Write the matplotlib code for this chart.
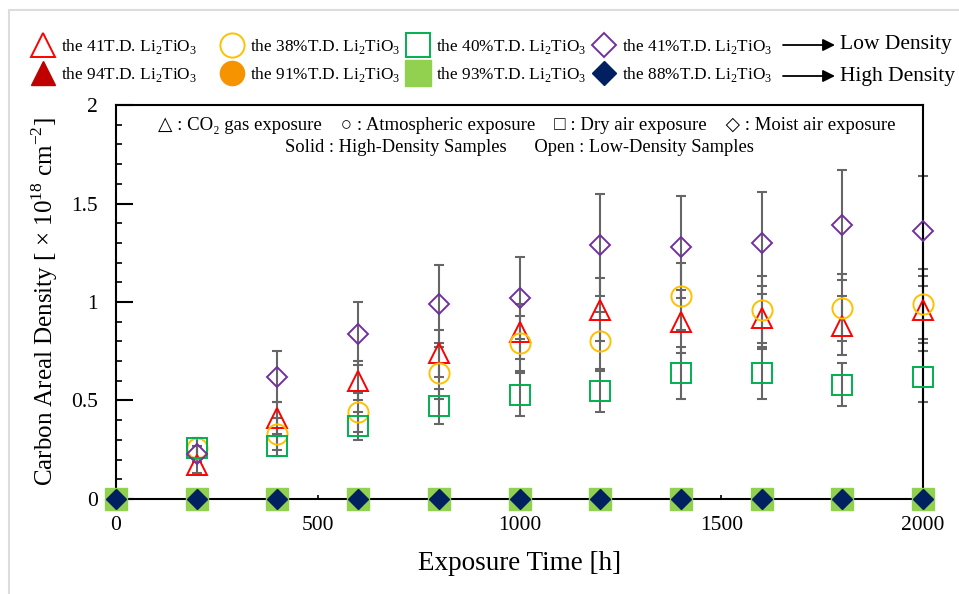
import numpy as np
import matplotlib
matplotlib.use("Agg")
from matplotlib import pyplot as plt
from matplotlib.patches import Rectangle, FancyArrowPatch
from matplotlib.ticker import MultipleLocator

plt.rcParams['font.family'] = ['Liberation Serif', 'DejaVu Sans']
plt.rcParams['mathtext.fontset'] = 'custom'
plt.rcParams['mathtext.rm'] = 'Liberation Serif'

# exposure times [h]
hours_low = [200, 400, 600, 800, 1000, 1200, 1400, 1600, 1800, 2000]
hours_high = [0, 200, 400, 600, 800, 1000, 1200, 1400, 1600, 1800, 2000]

# low density samples (open markers) with error
co2_low = [0.17, 0.41, 0.60, 0.74, 0.85, 0.96, 0.90, 0.92, 0.88, 0.96]
co2_err = [0.04, 0.08, 0.10, 0.12, 0.14, 0.16, 0.16, 0.16, 0.15, 0.17]
atm_low = [0.26, 0.33, 0.44, 0.64, 0.79, 0.80, 1.03, 0.96, 0.97, 0.99]
atm_err = [0.05, 0.08, 0.10, 0.13, 0.14, 0.15, 0.17, 0.17, 0.17, 0.18]
dry_low = [0.26, 0.27, 0.37, 0.47, 0.53, 0.55, 0.64, 0.64, 0.58, 0.62]
dry_err = [0.05, 0.05, 0.07, 0.09, 0.11, 0.11, 0.13, 0.13, 0.11, 0.13]
moist_low = [0.23, 0.62, 0.84, 0.99, 1.02, 1.29, 1.28, 1.30, 1.39, 1.36]
moist_err = [0.04, 0.13, 0.16, 0.20, 0.21, 0.26, 0.26, 0.26, 0.28, 0.28]

# high density samples (solid markers)
co2_high = [0, 0, 0, 0, 0, 0, 0, 0, 0, 0, 0]
atm_high = [0, 0, 0, 0, 0, 0, 0, 0, 0, 0, 0]
dry_high = [0, 0, 0, 0, 0, 0, 0, 0, 0, 0, 0]
moist_high = [0, 0, 0, 0, 0, 0, 0, 0, 0, 0, 0]

sub = 'Li$_\\mathregular{2}$TiO$_\\mathregular{3}$'
low_labels = ['the 41T.D. ' + sub, 'the 38%T.D. ' + sub, 'the 40%T.D. ' + sub, 'the 41%T.D. ' + sub]
high_labels = ['the 94T.D. ' + sub, 'the 91%T.D. ' + sub, 'the 93%T.D. ' + sub, 'the 88%T.D. ' + sub]

fig = plt.figure(figsize=(9.59, 5.94), dpi=100)
ax = fig.add_axes([0.121, 0.16, 0.8415, 0.6632])

fig.patches.append(Rectangle((0.0094, -0.1), 1.2, 1.083, transform=fig.transFigure,
                             fill=False, edgecolor='#DCDCDC', linewidth=1.5, zorder=0))

err_kw = dict(fmt='none', ecolor='#666666', elinewidth=1.5, capsize=3.5, capthick=1.5, zorder=2, clip_on=False)
for vals, errs in [(co2_low, co2_err), (atm_low, atm_err), (dry_low, dry_err), (moist_low, moist_err)]:
    ax.errorbar(hours_low, vals, yerr=errs, **err_kw)

h = []
h.append(ax.plot(hours_low, co2_low, '^', ms=14.5, mfc='none', mec='#FF0000', mew=1.4, label=low_labels[0], clip_on=False, zorder=3)[0])
h.append(ax.plot(hours_high, co2_high, '^', ms=14.5, mfc='#C00000', mec='#C00000', label=high_labels[0], clip_on=False, zorder=3)[0])
h.append(ax.plot(hours_low, atm_low, 'o', ms=14.5, mfc='none', mec='#FFC000', mew=1.4, label=low_labels[1], clip_on=False, zorder=3)[0])
h.append(ax.plot(hours_high, atm_high, 'o', ms=14.5, mfc='#F59300', mec='#F59300', label=high_labels[1], clip_on=False, zorder=3)[0])
h.append(ax.plot(hours_low, dry_low, 's', ms=14.5, mfc='none', mec='#00B050', mew=1.4, label=low_labels[2], clip_on=False, zorder=3)[0])
h.append(ax.plot(hours_high, dry_high, 's', ms=15.5, mfc='#92D050', mec='#92D050', label=high_labels[2], clip_on=False, zorder=4)[0])
h.append(ax.plot(hours_low, moist_low, 'D', ms=10.3, mfc='none', mec='#7030A0', mew=1.4, label=low_labels[3], clip_on=False, zorder=3)[0])
h.append(ax.plot(hours_high, moist_high, 'D', ms=10.6, mfc='#002060', mec='#002060', label=high_labels[3], clip_on=False, zorder=5)[0])

ax.set_xlim(0, 2000)
ax.set_ylim(0, 2)
ax.xaxis.set_major_locator(MultipleLocator(500))
ax.yaxis.set_minor_locator(MultipleLocator(0.1))
ax.set_yticks([0, 0.5, 1, 1.5, 2])
ax.set_yticklabels(['0', '0.5', '1', '1.5', '2'])
ax.tick_params(axis='y', which='major', direction='in', length=12, width=1.5, pad=13, labelsize=15.5)
ax.tick_params(axis='y', which='minor', direction='in', length=4.5, width=1.2)
ax.tick_params(axis='x', which='major', direction='in', length=3, width=1.2, pad=12, labelsize=15.5)
for s in ax.spines.values():
    s.set_linewidth(1.5)

ax.set_xlabel('Exposure Time [h]', fontsize=19.5, labelpad=12)
ax.set_ylabel('Carbon Areal Density [ $\\times$ 10$^\\mathregular{18}$ cm$^\\mathregular{-2}$]', fontsize=18, labelpad=8)

ax.text(0.509, 0.947, '\u25b3 : CO\u2082 gas exposure    \u25cb : Atmospheric exposure    \u25a1 : Dry air exposure    \u25c7 : Moist air exposure',
        transform=ax.transAxes, ha='center', va='center', fontsize=13.5)
ax.text(0.5, 0.891, 'Solid : High-Density Samples      Open : Low-Density Samples',
        transform=ax.transAxes, ha='center', va='center', fontsize=13.3)

# one legend per column (open on top, solid below)
col_left = [26, 215, 401, 587]
for i, x0 in enumerate(col_left):
    fig.legend(handles=h[2 * i:2 * i + 2], loc='upper left', bbox_to_anchor=(x0 / 959, 0.95), frameon=False,
               fontsize=12.4, markerscale=1.2, handlelength=1.2, handletextpad=0.45,
               labelspacing=0.55, borderaxespad=0)

for yy, txt in [(1 - 45 / 594, 'Low Density'), (1 - 76 / 594, 'High Density')]:
    fig.add_artist(FancyArrowPatch((783 / 959, yy), (835 / 959, yy), transform=fig.transFigure,
                                   arrowstyle='-|>', mutation_scale=18, color='black', lw=1.3,
                                   shrinkA=0, shrinkB=0))
    fig.text(840 / 959, yy, txt, ha='left', va='center', fontsize=15.5)

fig.savefig('out.png', dpi=100)
